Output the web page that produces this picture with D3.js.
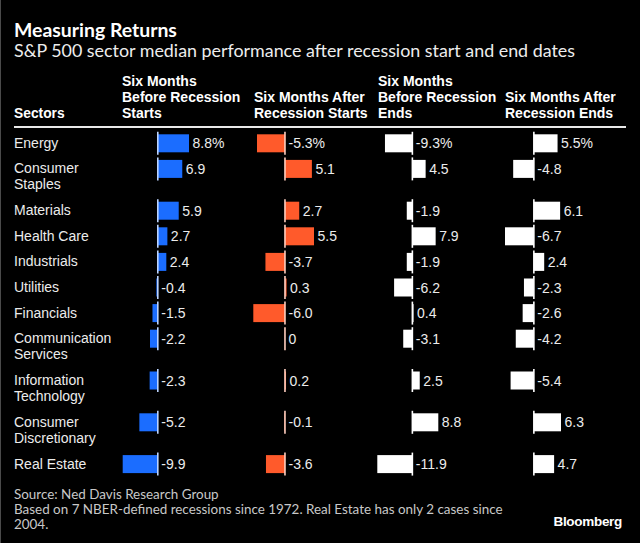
<!DOCTYPE html>
<html>
<head>
<meta charset="utf-8">
<script src="https://cdn.jsdelivr.net/npm/d3@7"></script>
<style>
  html, body { margin: 0; padding: 0; background: #000; }
  svg { display: block; }
</style>
</head>
<body>
<svg id="chart" width="640" height="543"></svg>
<script>
// ---- Data ----
const sectors = [
  "Energy", "Consumer\nStaples", "Materials", "Health Care", "Industrials",
  "Utilities", "Financials", "Communication\nServices", "Information\nTechnology",
  "Consumer\nDiscretionary", "Real Estate"
];
const beforeStart = [8.8, 6.9, 5.9, 2.7, 2.4, -0.4, -1.5, -2.2, -2.3, -5.2, -9.9];
const afterStart  = [-5.3, 5.1, 2.7, 5.5, -3.7, 0.3, -6.0, 0, 0.2, -0.1, -3.6];
const beforeEnd   = [-9.3, 4.5, -1.9, 7.9, -1.9, -6.2, 0.4, -3.1, 2.5, 8.8, -11.9];
const afterEnd    = [5.5, -4.8, 6.1, -6.7, 2.4, -2.3, -2.6, -4.2, -5.4, 6.3, 4.7];
const columnHeaders = [
  "Six Months\nBefore Recession\nStarts",
  "Six Months After\nRecession Starts",
  "Six Months\nBefore Recession\nEnds",
  "Six Months After\nRecession Ends"
];
const sectorHeader = "Sectors";
const title = "Measuring Returns";
const subtitle = "S&P 500 sector median performance after recession start and end dates";
const footnotes = [
  "Source: Ned Davis Research Group",
  "Based on 7 NBER-defined recessions since 1972. Real Estate has only 2 cases since",
  "2004."
];
const brand = "Bloomberg";

// ---- Layout ----
const svg = d3.select("#chart");
const W = 640, H = 543;
svg.append("rect").attr("width", W).attr("height", H).attr("fill", "#000");
svg.append("line").attr("x1", 0.5).attr("x2", 0.5).attr("y1", 0).attr("y2", H)
  .attr("stroke", "#4a4a4a").attr("stroke-width", 1);

const humanist = "Lato, 'Open Sans', sans-serif";
const grotesk = "'Liberation Sans', Arial, Helvetica, sans-serif";

function fitText(sel, target) {
  const node = sel.node();
  const fs = parseFloat(sel.attr("font-size"));
  const w = node.getComputedTextLength();
  if (w > 0) sel.attr("font-size", (fs * target / w).toFixed(2));
  return sel;
}

// Title & subtitle
fitText(svg.append("text").attr("x", 14).attr("y", 37)
  .attr("font-family", humanist).attr("font-weight", 700).attr("font-size", 17)
  .attr("fill", "#fff").text(title), 163);
fitText(svg.append("text").attr("x", 14).attr("y", 57)
  .attr("font-family", humanist).attr("font-weight", 400).attr("font-size", 16)
  .attr("fill", "#ededed").text(subtitle), 561);

// Columns
const series = [
  { values: beforeStart, color: "#1b6dff", x0: 122.7, x1: 189 },
  { values: afterStart,  color: "#ff5a2b", x0: 253.3, x1: 314 },
  { values: beforeEnd,   color: "#ffffff", x0: 377.3, x1: 438.3 },
  { values: afterEnd,    color: "#ffffff", x0: 505,   x1: 561 }
];
const headerX = [122, 254, 378, 505];
const headerBaseBottom = 118;
const headerLineH = 16;

// Sector header
svg.append("text").attr("x", 14).attr("y", headerBaseBottom)
  .attr("font-family", grotesk).attr("font-weight", 700).attr("font-size", 13.8)
  .attr("fill", "#fff").text(sectorHeader);

columnHeaders.forEach((h, i) => {
  const lines = h.split("\n");
  const t = svg.append("text").attr("font-family", grotesk).attr("font-weight", 700)
    .attr("font-size", 14).attr("fill", "#fff");
  lines.forEach((ln, j) => {
    t.append("tspan").attr("x", headerX[i])
      .attr("y", headerBaseBottom - (lines.length - 1 - j) * headerLineH).text(ln);
  });
});

// Header rule
svg.append("line").attr("x1", 14).attr("x2", 626).attr("y1", 127).attr("y2", 127)
  .attr("stroke", "#e8e8e8").attr("stroke-width", 2);

// Row positions
const rowStart = 143.3, rowPitch = 25.6, extraLine = 16.2;
const rowY = [];
{
  let y = rowStart;
  sectors.forEach((s) => {
    rowY.push(y);
    y += rowPitch + (s.split("\n").length - 1) * extraLine;
  });
}
const barH = 18;

// Sector labels
sectors.forEach((s, i) => {
  const t = svg.append("text").attr("font-family", grotesk).attr("font-size", 14)
    .attr("fill", "#ececec");
  s.split("\n").forEach((ln, j) => {
    t.append("tspan").attr("x", 14).attr("y", rowY[i] + 4.5 + j * 16).text(ln);
  });
});

const fmt = v => (v === 0 ? "0" : v.toFixed(1));

series.forEach((ser) => {
  const x = d3.scaleLinear().domain(d3.extent(ser.values)).range([ser.x0, ser.x1]);
  const zero = x(0);
  const g = svg.append("g");
  const zeroColor = d3.interpolateRgb(ser.color, "#ffffff")(0.7);
  ser.values.forEach((v, i) => {
    const cy = rowY[i];
    const xa = Math.min(x(v), zero), xb = Math.max(x(v), zero);
    g.append("rect").attr("x", xa).attr("y", cy - barH / 2)
      .attr("width", Math.max(0, xb - xa)).attr("height", barH).attr("fill", ser.color);
    g.append("line").attr("x1", zero).attr("x2", zero)
      .attr("y1", cy - barH / 2 - 2.5).attr("y2", cy + barH / 2 + 2.5)
      .attr("stroke", zeroColor).attr("stroke-width", 1.6);
    g.append("text").attr("x", xb + 3.5).attr("y", cy + 5)
      .attr("font-family", grotesk).attr("font-size", 14).attr("fill", "#ececec")
      .text(fmt(v) + (i === 0 ? "%" : ""));
  });
});

// Footer
const footY = [499, 514, 529];
const footTargets = [205, 489, null];
const footTexts = footnotes.map((f, i) =>
  svg.append("text").attr("x", 14).attr("y", footY[i])
    .attr("font-family", humanist).attr("font-size", 13).attr("fill", "#c8c8c8").text(f));
fitText(footTexts[1], 489);
footTexts[0].attr("font-size", footTexts[1].attr("font-size"));
footTexts[2].attr("font-size", footTexts[1].attr("font-size"));

svg.append("text").attr("x", 622).attr("y", 526).attr("text-anchor", "end")
  .attr("font-family", grotesk).attr("font-weight", 700).attr("font-size", 13.5)
  .attr("fill", "#fff").attr("letter-spacing", -0.3).text(brand);
</script>
</body>
</html>
